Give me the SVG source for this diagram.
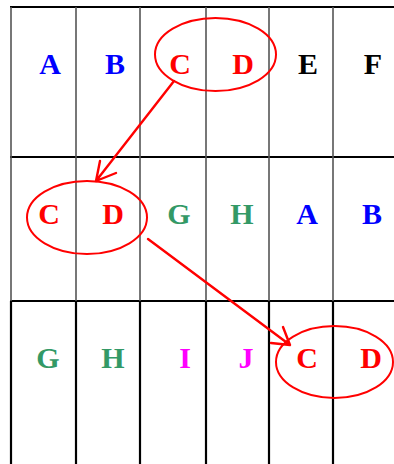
<svg xmlns="http://www.w3.org/2000/svg" width="394" height="464" viewBox="0 0 394 464">
<defs>
<style>
.t{font-family:"Liberation Serif","Times New Roman",serif;font-weight:bold;font-size:30px;text-anchor:middle}
.b{fill:#0000ff}.r{fill:#ff0000}.k{fill:#000000}.g{fill:#339966}.m{fill:#ff00ff}
.h{stroke:#000;stroke-width:2.2}
.v1{stroke:#555;stroke-width:1.6}
.v2{stroke:#000;stroke-width:2.2}
.e{fill:none;stroke:#ff0000;stroke-width:2}
.a{fill:none;stroke:#ff0000;stroke-width:2.4;stroke-linecap:round;stroke-linejoin:round}
</style>
</defs>
<rect width="394" height="464" fill="#fff"/>
<g id="grid">
<line class="h" x1="10" y1="7" x2="394" y2="7"/>
<line class="h" x1="10" y1="157" x2="394" y2="157"/>
<line class="h" x1="10" y1="301" x2="394" y2="301"/>
<g class="v1">
<line x1="11" y1="7" x2="11" y2="301"/>
<line x1="76" y1="7" x2="76" y2="301"/>
<line x1="140" y1="7" x2="140" y2="301"/>
<line x1="206" y1="7" x2="206" y2="301"/>
<line x1="269" y1="7" x2="269" y2="301"/>
<line x1="333" y1="7" x2="333" y2="301"/>
</g>
<g class="v2">
<line x1="11" y1="301" x2="11" y2="464"/>
<line x1="76" y1="301" x2="76" y2="464"/>
<line x1="140" y1="301" x2="140" y2="464"/>
<line x1="206" y1="301" x2="206" y2="464"/>
<line x1="269" y1="301" x2="269" y2="464"/>
<line x1="333" y1="301" x2="333" y2="464"/>
</g>
</g>
<g id="row1">
<text class="t b" x="50" y="74">A</text>
<text class="t b" x="115" y="74">B</text>
<text class="t r" x="180" y="74">C</text>
<text class="t r" x="243" y="74">D</text>
<text class="t k" x="308" y="74">E</text>
<text class="t k" x="373" y="74">F</text>
</g>
<g id="row2">
<text class="t r" x="49" y="224">C</text>
<text class="t r" x="113" y="224">D</text>
<text class="t g" x="179" y="224">G</text>
<text class="t g" x="242" y="224">H</text>
<text class="t b" x="307" y="224">A</text>
<text class="t b" x="372" y="224">B</text>
</g>
<g id="row3">
<text class="t g" x="48" y="368">G</text>
<text class="t g" x="113" y="368">H</text>
<text class="t m" x="185" y="368">I</text>
<text class="t m" x="246" y="368">J</text>
<text class="t r" x="307" y="368">C</text>
<text class="t r" x="371" y="368">D</text>
</g>
<g id="ellipses">
<ellipse id="e1" class="e" cx="215.5" cy="54.5" rx="60.5" ry="36.5"/>
<ellipse id="e2" class="e" cx="87" cy="217.5" rx="60" ry="36.5"/>
<ellipse id="e3" class="e" cx="334.5" cy="362" rx="58.5" ry="36"/>
</g>
<g id="connectors">
<path class="a" d="M174,81 L96,181 M100,161 L96,181 L116,173"/>
<path class="a" d="M148,239 L290,345 M283,327 L290,345 L271,343"/>
</g>
</svg>
